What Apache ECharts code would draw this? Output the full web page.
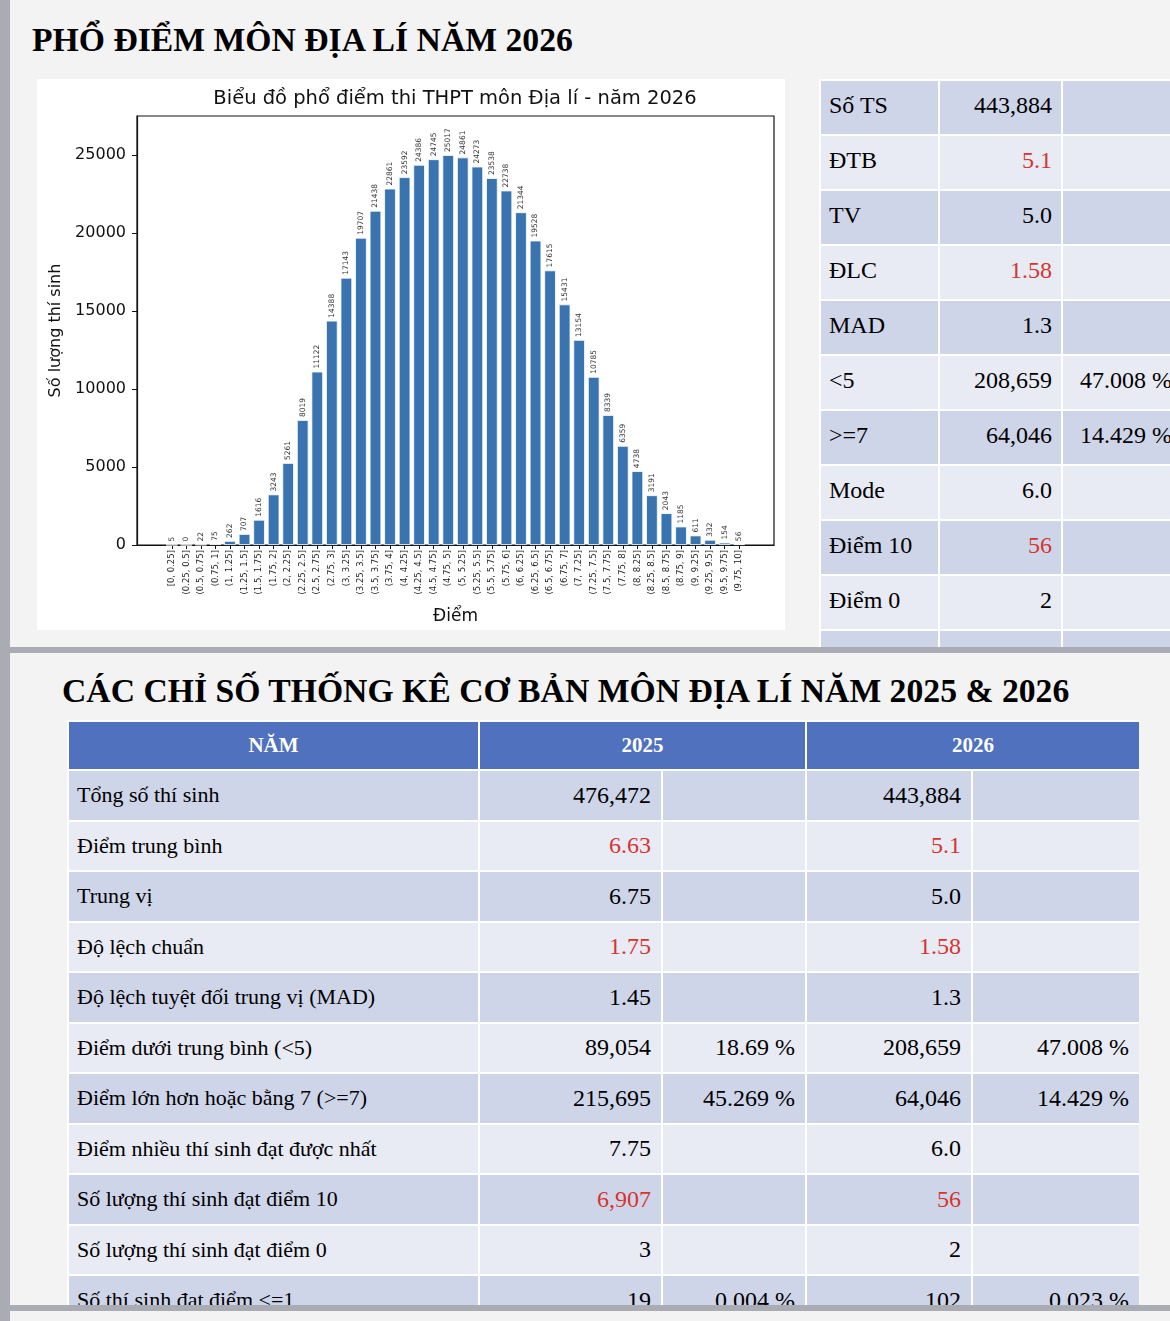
<!DOCTYPE html>
<html>
<head>
<meta charset="utf-8">
<script src="https://cdn.jsdelivr.net/npm/echarts@6/dist/echarts.min.js"></script>
<style>
    html, body { margin: 0; padding: 0; }
    body { width: 1170px; height: 1321px; background: #f3f3f3; position: relative; overflow: hidden; }
    .strip { position: absolute; left: 0; top: 0; width: 10px; height: 1321px; background: #a9adb3; }
    .hbar { position: absolute; left: 10px; width: 1160px; height: 6px; background: #a9adb3; }
    .title { position: absolute; margin: 0; font-family: 'Liberation Serif', serif; font-weight: bold; font-size: 33.7px; color: #000; white-space: nowrap; }
    #main { position: absolute; left: 37px; top: 79px; width: 748px; height: 551px; background: #fff; }
    .clip { position: absolute; overflow: hidden; }
    table { border-collapse: collapse; table-layout: fixed; font-family: 'Liberation Serif', serif; color: #000; }
    td, th { border: 2px solid #fff; padding: 0 10px; box-sizing: border-box; white-space: nowrap; }
    .side td { height: 55px; font-size: 24px; padding: 0 9px 4px 8px; }
    .stats td { height: 50.5px; font-size: 22px; padding-left: 8px; }
    .stats td.num { font-size: 24px; }
    .stats th { height: 49px; font-size: 21px; background: #4f71be; color: #fff; text-align: center; }
    tr.dark td { background: #cfd5e9; }
    tr.light td { background: #e8eaf4; }
    td.num { text-align: right; }
    .red { color: #d5352f; }
</style>
</head>
<body>
<div class="strip"></div>
<h1 class="title" style="left:32px; top:21px;">PHỔ ĐIỂM MÔN ĐỊA LÍ NĂM 2026</h1>
<div id="main"></div>
<div class="clip" id="sideBox" style="left:819px; top:79px; width:351px; height:569px;"></div>
<div class="hbar" style="top:647px;"></div>
<h1 class="title" style="left:62px; top:672px;">CÁC CHỈ SỐ THỐNG KÊ CƠ BẢN MÔN ĐỊA LÍ NĂM 2025 &amp; 2026</h1>
<div class="clip" id="statBox" style="left:67px; top:720px; width:1072px; height:585px;"></div>
<div class="hbar" style="top:1305px;"></div>
<script>
// khoảng điểm (trục hoành)
var binLabels = ['[0, 0.25]', '(0.25, 0.5]', '(0.5, 0.75]', '(0.75, 1]', '(1, 1.25]', '(1.25, 1.5]',
    '(1.5, 1.75]', '(1.75, 2]', '(2, 2.25]', '(2.25, 2.5]', '(2.5, 2.75]', '(2.75, 3]', '(3, 3.25]',
    '(3.25, 3.5]', '(3.5, 3.75]', '(3.75, 4]', '(4, 4.25]', '(4.25, 4.5]', '(4.5, 4.75]', '(4.75, 5]',
    '(5, 5.25]', '(5.25, 5.5]', '(5.5, 5.75]', '(5.75, 6]', '(6, 6.25]', '(6.25, 6.5]', '(6.5, 6.75]',
    '(6.75, 7]', '(7, 7.25]', '(7.25, 7.5]', '(7.5, 7.75]', '(7.75, 8]', '(8, 8.25]', '(8.25, 8.5]',
    '(8.5, 8.75]', '(8.75, 9]', '(9, 9.25]', '(9.25, 9.5]', '(9.5, 9.75]', '(9.75, 10]'];
// số lượng thí sinh mỗi khoảng
var binCounts = [5, 0, 22, 75, 262, 707, 1616, 3243, 5261, 8019, 11122, 14388, 17143, 19707, 21438,
    22861, 23592, 24386, 24745, 25017, 24861, 24273, 23538, 22738, 21344, 19528, 17615, 15431, 13154,
    10785, 8339, 6359, 4738, 3191, 2043, 1185, 611, 332, 154, 56];
var yTicks = [0, 5000, 10000, 15000, 20000, 25000];

// bảng bên phải
var sideLabels = ['Số TS', 'ĐTB', 'TV', 'ĐLC', 'MAD', '<5', '>=7', 'Mode', 'Điểm 10', 'Điểm 0', '<=1'];
var sideValues = ['443,884', '5.1', '5.0', '1.58', '1.3', '208,659', '64,046', '6.0', '56', '2', '102'];
var sidePercents = ['', '', '', '', '', '47.008 %', '14.429 %', '', '', '', '0.023 %'];
var sideRed = ['ĐTB', 'ĐLC', 'Điểm 10'];

// bảng thống kê 2025 & 2026
var statHeaders = ['NĂM', '2025', '2026'];
var statLabels = ['Tổng số thí sinh', 'Điểm trung bình', 'Trung vị', 'Độ lệch chuẩn',
    'Độ lệch tuyệt đối trung vị (MAD)', 'Điểm dưới trung bình (<5)', 'Điểm lớn hơn hoặc bằng 7 (>=7)',
    'Điểm nhiều thí sinh đạt được nhất', 'Số lượng thí sinh đạt điểm 10', 'Số lượng thí sinh đạt điểm 0',
    'Số thí sinh đạt điểm <=1'];
var stat2025 = ['476,472', '6.63', '6.75', '1.75', '1.45', '89,054', '215,695', '7.75', '6,907', '3', '19'];
var pct2025 = ['', '', '', '', '', '18.69 %', '45.269 %', '', '', '', '0.004 %'];
var stat2026 = ['443,884', '5.1', '5.0', '1.58', '1.3', '208,659', '64,046', '6.0', '56', '2', '102'];
var pct2026 = ['', '', '', '', '', '47.008 %', '14.429 %', '', '', '', '0.023 %'];
var statRed = [1, 3, 8];

function esc(s) {
    return s.replace(/&/g, '&amp;').replace(/</g, '&lt;').replace(/>/g, '&gt;');
}

// bảng bên phải
var html = '<table class="side" style="width:362px"><colgroup><col style="width:119px"><col style="width:123px"><col style="width:120px"></colgroup>';
for (var i = 0; i < sideLabels.length; i++) {
    var red = sideRed.indexOf(sideLabels[i]) >= 0 ? ' red' : '';
    html += '<tr class="' + (i % 2 == 0 ? 'dark' : 'light') + '">' +
        '<td>' + esc(sideLabels[i]) + '</td>' +
        '<td class="num' + red + '">' + sideValues[i] + '</td>' +
        '<td class="num">' + sidePercents[i] + '</td></tr>';
}
html += '</table>';
document.getElementById('sideBox').innerHTML = html;

// bảng thống kê
var html2 = '<table class="stats" style="width:1072px"><colgroup><col style="width:411px"><col style="width:183px">' +
    '<col style="width:144px"><col style="width:166px"><col style="width:168px"></colgroup>';
html2 += '<tr><th>' + statHeaders[0] + '</th><th colspan="2">' + statHeaders[1] + '</th><th colspan="2">' + statHeaders[2] + '</th></tr>';
for (var j = 0; j < statLabels.length; j++) {
    var r = statRed.indexOf(j) >= 0 ? ' red' : '';
    html2 += '<tr class="' + (j % 2 == 0 ? 'dark' : 'light') + '">' +
        '<td>' + esc(statLabels[j]) + '</td>' +
        '<td class="num' + r + '">' + stat2025[j] + '</td>' +
        '<td class="num">' + pct2025[j] + '</td>' +
        '<td class="num' + r + '">' + stat2026[j] + '</td>' +
        '<td class="num">' + pct2026[j] + '</td></tr>';
}
html2 += '</table>';
document.getElementById('statBox').innerHTML = html2;

// biểu đồ phổ điểm
var myChart = echarts.init(document.getElementById('main'));
var idx = binLabels.map(function (l, i) { return i; });
var font = 'DejaVu Sans';

var option = {
    backgroundColor: '#fff',
    animation: false,
    title: {
        text: 'Biểu đồ phổ điểm thi THPT môn Địa lí - năm 2026',
        left: 418,
        top: 10,
        padding: 0,
        textAlign: 'center',
        textStyle: { fontFamily: font, fontSize: 19.5, fontWeight: 'normal', color: '#111' }
    },
    grid: {
        left: 100, top: 37, width: 637, height: 431,
        show: true, borderColor: '#111', borderWidth: 1.2, backgroundColor: '#fff'
    },
    xAxis: {
        type: 'value',
        min: -2.39,
        max: 41.39,
        name: 'Điểm',
        nameLocation: 'middle',
        nameGap: 63,
        nameTextStyle: { fontFamily: font, fontSize: 17, color: '#111' },
        splitLine: { show: false },
        axisLine: { onZero: false, lineStyle: { color: '#111', width: 1.2 } },
        axisTick: { customValues: idx, length: 4, lineStyle: { color: '#111' } },
        axisLabel: {
            customValues: idx,
            rotate: 90,
            margin: 5,
            fontFamily: font,
            fontSize: 8.5,
            color: '#222',
            formatter: function (v) { return binLabels[v]; }
        }
    },
    yAxis: {
        type: 'value',
        min: 0,
        max: 27518.7,
        interval: 5000,
        name: 'Số lượng thí sinh',
        nameLocation: 'middle',
        nameGap: 73,
        nameTextStyle: { fontFamily: font, fontSize: 16, color: '#111' },
        splitLine: { show: false },
        axisLine: { show: true, onZero: false, lineStyle: { color: '#111', width: 1.2 } },
        axisTick: { customValues: yTicks, length: 5, lineStyle: { color: '#111' } },
        axisLabel: {
            customValues: yTicks, margin: 11, fontFamily: font, fontSize: 16, color: '#111',
            formatter: function (v) { return String(v); }
        }
    },
    series: [{
        type: 'bar',
        data: binCounts.map(function (v, i) { return [i, v]; }),
        barWidth: 11.6,
        itemStyle: { color: '#3a74b0', borderColor: '#fff', borderWidth: 0.8 },
        label: {
            show: true,
            position: 'top',
            rotate: 90,
            align: 'left',
            verticalAlign: 'middle',
            distance: 3,
            fontFamily: font,
            fontSize: 7.5,
            color: '#333',
            formatter: function (p) { return p.value[1]; }
        }
    }]
};
myChart.setOption(option);
</script>
</body>
</html>
